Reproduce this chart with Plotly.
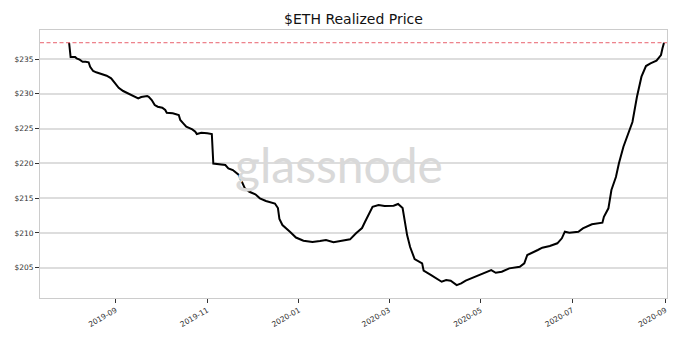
import plotly.graph_objects as go

dates = [
    "2019-08-01", "2019-08-02", "2019-08-05", "2019-08-06", "2019-08-08", "2019-08-10",
    "2019-08-12", "2019-08-14", "2019-08-15", "2019-08-17", "2019-08-19", "2019-08-23",
    "2019-08-26", "2019-08-29", "2019-09-01", "2019-09-03", "2019-09-06", "2019-09-09",
    "2019-09-13", "2019-09-16", "2019-09-18", "2019-09-22", "2019-09-23", "2019-09-25",
    "2019-09-27", "2019-09-29", "2019-10-02", "2019-10-04", "2019-10-05", "2019-10-09",
    "2019-10-13", "2019-10-14", "2019-10-16", "2019-10-18", "2019-10-22", "2019-10-24",
    "2019-10-25", "2019-10-28", "2019-11-01", "2019-11-04", "2019-11-05", "2019-11-08",
    "2019-11-13", "2019-11-15", "2019-11-18", "2019-11-22", "2019-11-24", "2019-11-26",
    "2019-11-29", "2019-12-03", "2019-12-06", "2019-12-10", "2019-12-16", "2019-12-18",
    "2019-12-19", "2019-12-21", "2019-12-26", "2019-12-30", "2020-01-04", "2020-01-10",
    "2020-01-15", "2020-01-19", "2020-01-24", "2020-01-30", "2020-02-04", "2020-02-08",
    "2020-02-12", "2020-02-14", "2020-02-16", "2020-02-19", "2020-02-23", "2020-02-27",
    "2020-03-04", "2020-03-07", "2020-03-10", "2020-03-13", "2020-03-15", "2020-03-18",
    "2020-03-23", "2020-03-24", "2020-03-29", "2020-04-05", "2020-04-08", "2020-04-11",
    "2020-04-15", "2020-04-18", "2020-04-21", "2020-04-26", "2020-04-29", "2020-05-04",
    "2020-05-08", "2020-05-11", "2020-05-15", "2020-05-20", "2020-05-27", "2020-05-30",
    "2020-06-01", "2020-06-08", "2020-06-11", "2020-06-16", "2020-06-21", "2020-06-24",
    "2020-06-26", "2020-06-29", "2020-07-05", "2020-07-08", "2020-07-14", "2020-07-21",
    "2020-07-22", "2020-07-25", "2020-07-27", "2020-07-30", "2020-08-01", "2020-08-04",
    "2020-08-07", "2020-08-10", "2020-08-13", "2020-08-16", "2020-08-19", "2020-08-22",
    "2020-08-26", "2020-08-29", "2020-08-30", "2020-08-31",
]

realized_price = [
    237.34, 235.29, 235.29, 235.10, 234.90, 234.61,
    234.61, 234.53, 233.89, 233.28, 233.09, 232.84,
    232.60, 232.23, 231.36, 230.87, 230.40, 230.07,
    229.72, 229.35, 229.54, 229.68, 229.58, 229.11,
    228.39, 228.14, 228.00, 227.67, 227.28, 227.19,
    226.95, 226.23, 225.76, 225.27, 224.89, 224.55,
    224.22, 224.41, 224.32, 224.22, 219.98, 219.91,
    219.76, 219.29, 219.04, 218.33, 217.36, 216.41,
    215.92, 215.55, 214.98, 214.59, 214.23, 213.58,
    212.00, 211.14, 210.18, 209.34, 208.88, 208.70,
    208.84, 208.98, 208.67, 208.84, 209.08, 209.95,
    210.71, 211.61, 212.43, 213.77, 214.01, 213.87,
    213.91, 214.16, 213.58, 209.70, 207.98, 206.25,
    205.63, 204.57, 203.95, 202.99, 203.23, 203.13,
    202.51, 202.76, 203.16, 203.59, 203.95, 204.28,
    204.67, 204.28, 204.43, 204.91, 205.14, 205.63,
    206.83, 207.55, 207.88, 208.12, 208.51, 209.23,
    210.18, 210.03, 210.18, 210.66, 211.24, 211.47,
    212.33, 213.54, 216.17, 218.04, 220.01, 222.39,
    224.32, 225.94, 229.58, 232.46, 233.99, 234.38,
    234.76, 235.57, 236.54, 237.34,
]

ath_level = 237.34

y_ticks = [205, 210, 215, 220, 225, 230, 235]
y_tick_labels = ["$205", "$210", "$215", "$220", "$225", "$230", "$235"]
x_ticks = ["2019-09-01", "2019-11-01", "2020-01-01", "2020-03-01",
           "2020-05-01", "2020-07-01", "2020-09-01"]
x_tick_labels = ["2019-09", "2019-11", "2020-01", "2020-03",
                 "2020-05", "2020-07", "2020-09"]

fig = go.Figure()

fig.add_trace(go.Scatter(
    x=dates, y=realized_price, mode="lines",
    line=dict(color="black", width=2),
    showlegend=False,
))

fig.add_hline(y=ath_level, line=dict(color="#e8606c", width=1, dash="4px,2.5px"))

fig.add_annotation(
    text="glassnode", xref="paper", yref="paper", x=0.477, y=0.5,
    showarrow=False, font=dict(family="Lato", size=48, color="#d9d9d9"),
    xanchor="center", yanchor="middle",
)

fig.update_layout(
    width=680, height=340,
    margin=dict(l=40, r=13, t=30, b=42),
    paper_bgcolor="white", plot_bgcolor="white",
    title=dict(text="$ETH Realized Price", x=0.5, xref="paper", y=0.945,
               yref="container", xanchor="center", yanchor="middle",
               font=dict(family="DejaVu Sans", size=14, color="#111111")),
    font=dict(family="DejaVu Sans", size=8, color="#333333"),
    xaxis=dict(
        range=["2019-07-12 15:00", "2020-09-02"],
        tickvals=x_ticks, ticktext=x_tick_labels, tickangle=-30,
        showgrid=False, zeroline=False,
        showline=True, linecolor="#cccccc", linewidth=1, mirror=True,
        ticks="outside", ticklen=4, tickcolor="#333333", tickwidth=1,
        tickfont=dict(size=7.5),
    ),
    yaxis=dict(
        range=[200.65, 239.17],
        tickvals=y_ticks, ticktext=y_tick_labels,
        showgrid=True, gridcolor="#dddddd", gridwidth=1.5, zeroline=False,
        showline=True, linecolor="#cccccc", linewidth=1, mirror=True,
        ticks="outside", ticklen=4, tickcolor="#333333", tickwidth=1,
        tickfont=dict(size=7.5),
    ),
)

fig.write_html("out.html")
